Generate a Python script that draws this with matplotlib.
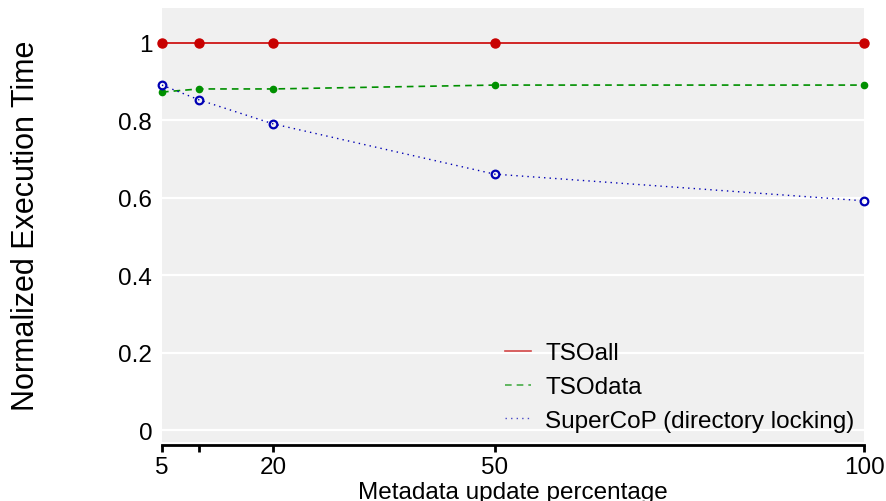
import matplotlib
matplotlib.use("Agg")
import matplotlib.pyplot as plt

plt.rcParams["font.family"] = ["Liberation Sans", "DejaVu Sans"]

update_pct = [5, 10, 20, 50, 100]
tick_labels = ["5", "", "20", "50", "100"]
tso_all = [1.0, 1.0, 1.0, 1.0, 1.0]
tso_data = [0.873, 0.881, 0.881, 0.891, 0.891]
supercop = [0.891, 0.853, 0.791, 0.661, 0.592]

fig = plt.figure(figsize=(8.86, 5.02), dpi=100)
ax = fig.add_axes([0.1828, 0.1175, 0.9752 - 0.1828, 0.982 - 0.1175])
ax.set_facecolor("#f0f0f0")

for y in [0, 0.2, 0.4, 0.6, 0.8, 1.0]:
    ax.axhline(y, color="white", lw=1.6, zorder=1)

ax.plot(update_pct, tso_all, color="#c80000", lw=1.2, ls="-",
        marker="o", ms=6.5, mfc="#c80000", mec="#c80000", clip_on=False, zorder=4,
        label="TSOall")
ax.plot(update_pct, tso_data, color="#009000", lw=1.2, ls=(0, (4, 3)),
        marker="o", ms=4.5, mfc="#009000", mec="#009000", clip_on=False, zorder=3,
        label="TSOdata")
ax.plot(update_pct, supercop, color="#0000b4", lw=1.0, ls=(0, (1, 3)),
        marker="o", ms=5.5, mfc="none", mec="#0000b4", mew=1.6, clip_on=False, zorder=3,
        label="SuperCoP (directory locking)")

ax.set_xlim(5, 100)
ax.set_ylim(-0.031, 1.09)

for s in ["top", "right", "left"]:
    ax.spines[s].set_visible(False)
ax.spines["bottom"].set_position(("outward", 2))
ax.spines["bottom"].set_bounds(5, 100)
ax.spines["bottom"].set_linewidth(2)

ax.set_xticks(update_pct)
ax.set_xticklabels(tick_labels)
ax.set_yticks([0, 0.2, 0.4, 0.6, 0.8, 1.0])
ax.set_yticklabels(["0", "0.2", "0.4", "0.6", "0.8", "1"])
ax.tick_params(axis="x", length=5, width=2, pad=3, labelsize=17.5)
ax.tick_params(axis="y", length=0, pad=7, labelsize=17.5)

ax.set_xlabel("Metadata update percentage", fontsize=17.5, labelpad=2)
ax.set_ylabel("Normalized Execution Time", fontsize=22)
ax.yaxis.set_label_coords(-0.172, 0.5)

leg = ax.legend(loc="center left", bbox_to_anchor=(0.458, 0.1266), frameon=False,
                fontsize=17.5, handlelength=1.05, handletextpad=0.6, labelspacing=0.49)
for h in leg.get_lines():
    h.set_marker("")
    h.set_alpha(0.7)

fig.savefig("out.png", dpi=100)
